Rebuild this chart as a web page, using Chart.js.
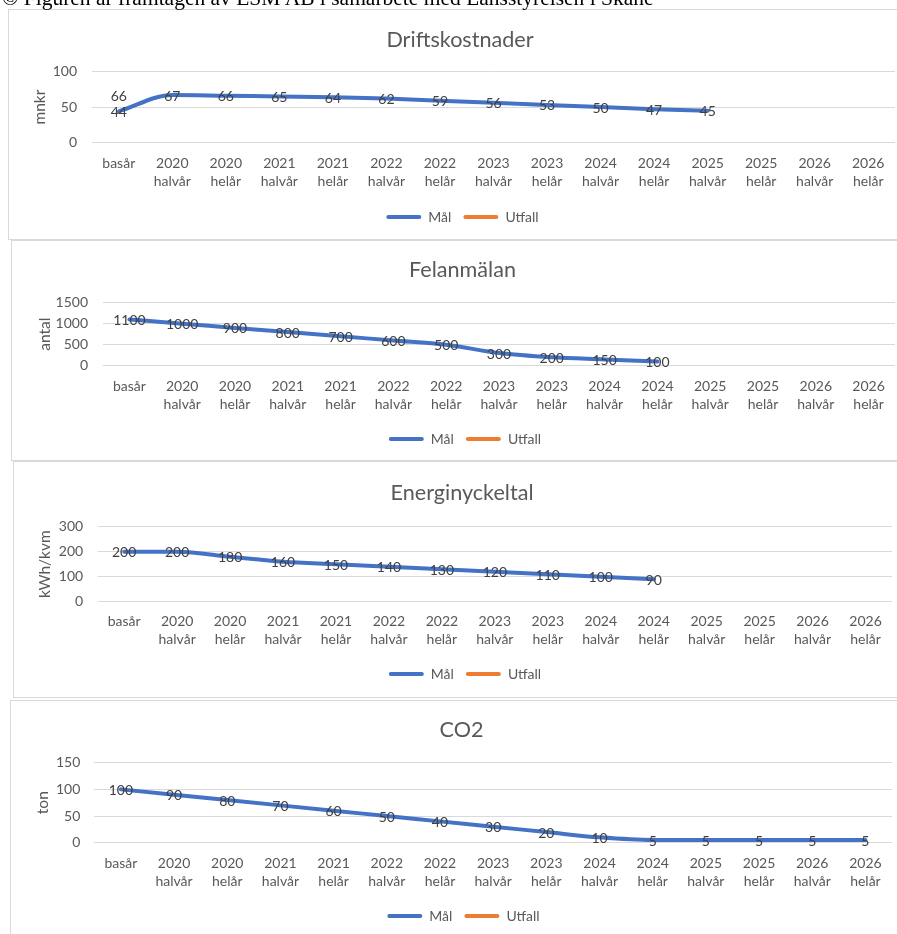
<!DOCTYPE html>
<html><head><meta charset="utf-8">
<script src="https://cdn.jsdelivr.net/npm/chart.js@4.4.0/dist/chart.umd.min.js"></script>
<style>
html,body{margin:0;padding:0;width:897px;height:934px;overflow:hidden;background:#fff;}
.panel{position:absolute;box-sizing:border-box;border:1px solid #d9d9d9;background:#fff;}
canvas{position:absolute;}
#cap{position:absolute;left:2px;top:-12px;font:21.5px/21.5px "Liberation Serif","Times New Roman",serif;color:#000;white-space:nowrap;z-index:5;}
</style></head><body>
<div id="cap">© Figuren är framtagen av ESM AB i samarbete med Länsstyrelsen i Skåne</div>
<div class="panel" style="left:8px;top:9px;width:920px;height:231px;"></div>
<div class="panel" style="left:11px;top:240px;width:920px;height:221px;"></div>
<div class="panel" style="left:13px;top:461px;width:920px;height:237px;"></div>
<div class="panel" style="left:10px;top:700px;width:920px;height:260px;"></div>
<canvas id="c1"></canvas>
<canvas id="c2"></canvas>
<canvas id="c3"></canvas>
<canvas id="c4"></canvas>
<script>
// ---- data ----
const categories = ['basår', ['2020','halvår'], ['2020','helår'], ['2021','halvår'], ['2021','helår'],
  ['2022','halvår'], ['2022','helår'], ['2023','halvår'], ['2023','helår'], ['2024','halvår'], ['2024','helår'],
  ['2025','halvår'], ['2025','helår'], ['2026','halvår'], ['2026','helår']];
const seriesNames = ['Mål', 'Utfall'];

const driftMal    = [44, 67, 66, 65, 64, 62, 59, 56, 53, 50, 47, 45, null, null, null];
const driftUtfall = [66, null, null, null, null, null, null, null, null, null, null, null, null, null, null];

const felMal      = [1100, 1000, 900, 800, 700, 600, 500, 300, 200, 150, 100, null, null, null, null];
const felUtfall   = [null, null, null, null, null, null, null, null, null, null, null, null, null, null, null];

const energiMal   = [200, 200, 180, 160, 150, 140, 130, 120, 110, 100, 90, null, null, null, null];
const energiUtfall= [null, null, null, null, null, null, null, null, null, null, null, null, null, null, null];

const co2Mal      = [100, 90, 80, 70, 60, 50, 40, 30, 20, 10, 5, 5, 5, 5, 5];
const co2Utfall   = [null, null, null, null, null, null, null, null, null, null, null, null, null, null, null];

const chartTitles = ['Driftskostnader', 'Felanmälan', 'Energinyckeltal', 'CO2'];
const yTitles     = ['mnkr', 'antal', 'kWh/kvm', 'ton'];
const yMaxes      = [100, 1500, 300, 150];
const ySteps      = [50, 500, 100, 50];

// ---- layout (positions only) ----
const layouts = [
  {left:8,  top:9,   width:904, titleC:31,   plotTop:62.5, plotBottom:133.7, plotLeft:84,   padRight:17, xLab:154,   legendC:206.7, yTitleX:32, tickPad:15,   titleCx:460,   legendCx:462.5},
  {left:11, top:240, width:903, titleC:30,   plotTop:62.7, plotBottom:125.7, plotLeft:92,   padRight:19, xLab:146.7, legendC:198,   yTitleX:34, tickPad:15,   titleCx:462.5, legendCx:465},
  {left:13, top:462, width:898, titleC:31.3, plotTop:64.7, plotBottom:139.7, plotLeft:84.7, padRight:19, xLab:159.7, legendC:211.3, yTitleX:32, tickPad:14.5, titleCx:462,   legendCx:465},
  {left:10, top:700, width:903, titleC:30,   plotTop:62.7, plotBottom:142.7, plotLeft:84.3, padRight:21, xLab:163.3, legendC:215,   yTitleX:33, tickPad:14,   titleCx:461.5, legendCx:463.5}
];

const FONT = 'Lato, Carlito, Calibri, sans-serif';
Chart.defaults.font.family = FONT;
Chart.defaults.color = '#595959';

const LBL = 14; // general small text size
const valueLabels = {
  id: 'valueLabels',
  afterDatasetsDraw(chart) {
    const ctx = chart.ctx;
    ctx.save();
    ctx.font = LBL + 'px ' + FONT;
    ctx.fillStyle = '#404040';
    ctx.textAlign = 'center';
    ctx.textBaseline = 'middle';
    chart.data.datasets.forEach((ds, i) => {
      const meta = chart.getDatasetMeta(i);
      if (meta.hidden) return;
      meta.data.forEach((pt, j) => {
        const v = ds.data[j];
        if (v === null || v === undefined) return;
        ctx.fillText(String(v), pt.x, pt.y + 1);
      });
    });
    ctx.restore();
  }
};

// shifts the title and legend boxes horizontally to where the reference centres them
const centreBoxes = {
  id: 'centreBoxes',
  afterLayout(chart, args, opts) {
    const shift = (box, cx) => {
      if (!box) return;
      const d = cx - opts.left - (box.left + box.right) / 2;
      box.left += d; box.right += d;
    };
    shift(chart.titleBlock, opts.titleCx);
    shift(chart.legend, opts.legendCx);
  }
};

const allMal = [driftMal, felMal, energiMal, co2Mal];
const allUtfall = [driftUtfall, felUtfall, energiUtfall, co2Utfall];

const LEG_PAD = 12, PAD_BOTTOM = 4;
const LEG_BELOW_CENTER = 17 + (LBL - 12) / 2; // distance from legend centre to legend box bottom (measured)

layouts.forEach((L, k) => {
  const cv = document.getElementById('c' + (k + 1));
  const H = Math.round(L.legendC + LEG_BELOW_CENTER + PAD_BOTTOM);
  cv.width = L.width; cv.height = H;
  cv.style.left = L.left + 'px'; cv.style.top = L.top + 'px';
  const titleSize = 21.6;
  const titleLH = titleSize * 1.2;
  const tPadTop = L.titleC - titleLH / 2;
  const tPadBottom = L.plotTop - tPadTop - titleLH;
  const xLH = 18;
  new Chart(cv, {
    type: 'line',
    data: {
      labels: categories,
      datasets: [
        {label: seriesNames[0], data: allMal[k], borderColor: '#4472C4', backgroundColor: '#4472C4',
         borderWidth: 4, pointRadius: 0, pointHoverRadius: 0, cubicInterpolationMode: 'monotone',
         borderCapStyle: 'round', borderJoinStyle: 'round'},
        {label: seriesNames[1], data: allUtfall[k], borderColor: '#ED7D31', backgroundColor: '#ED7D31',
         borderWidth: 4, pointRadius: 0, pointHoverRadius: 0, cubicInterpolationMode: 'monotone', borderCapStyle: 'round'}
      ]
    },
    options: {
      responsive: false,
      animation: false,
      events: [],
      layout: {padding: {left: 0, right: L.padRight, top: 0, bottom: PAD_BOTTOM}},
      plugins: {
        centreBoxes: {left: L.left, titleCx: L.titleCx, legendCx: L.legendCx},
        title: {display: true, text: chartTitles[k], color: '#595959',
          font: {size: titleSize, weight: 'normal', lineHeight: 1.2},
          padding: {top: tPadTop, bottom: tPadBottom}},
        legend: {display: true, position: 'bottom',
          labels: {boxWidth: 35, boxHeight: 4, padding: LEG_PAD, color: '#595959',
            font: {size: LBL}, useBorderRadius: true, borderRadius: 2,
            generateLabels: (chart) => Chart.defaults.plugins.legend.labels.generateLabels(chart)
              .map(l => Object.assign(l, {lineWidth: 0}))}},
        tooltip: {enabled: false}
      },
      scales: {
        x: {
          offset: true,
          grid: {display: false, drawTicks: false},
          border: {display: false},
          ticks: {color: '#595959', font: {size: LBL, lineHeight: xLH / LBL}, maxRotation: 0, autoSkip: false,
                  padding: L.xLab - L.plotBottom - xLH / 2},
          afterFit: (s) => {
            const lg = s.chart.legend;
            const legH = (lg && lg.height) ? lg.height : 35;
            s.height = H - PAD_BOTTOM - legH - L.plotBottom;
          }
        },
        y: {
          min: 0, max: yMaxes[k],
          grid: {color: '#d9d9d9', lineWidth: 1, drawTicks: false},
          border: {display: false},
          ticks: {stepSize: ySteps[k], color: '#595959', font: {size: LBL}, padding: L.tickPad,
                  callback: (v) => String(v)},
          title: {display: true, text: yTitles[k], color: '#595959', font: {size: 15.5, lineHeight: 1.2},
                  padding: {top: L.yTitleX - 9.3, bottom: 0}},
          afterFit: (s) => { s.width = L.plotLeft; }
        }
      }
    },
    plugins: [valueLabels, centreBoxes]
  });
});
</script>
</body></html>
